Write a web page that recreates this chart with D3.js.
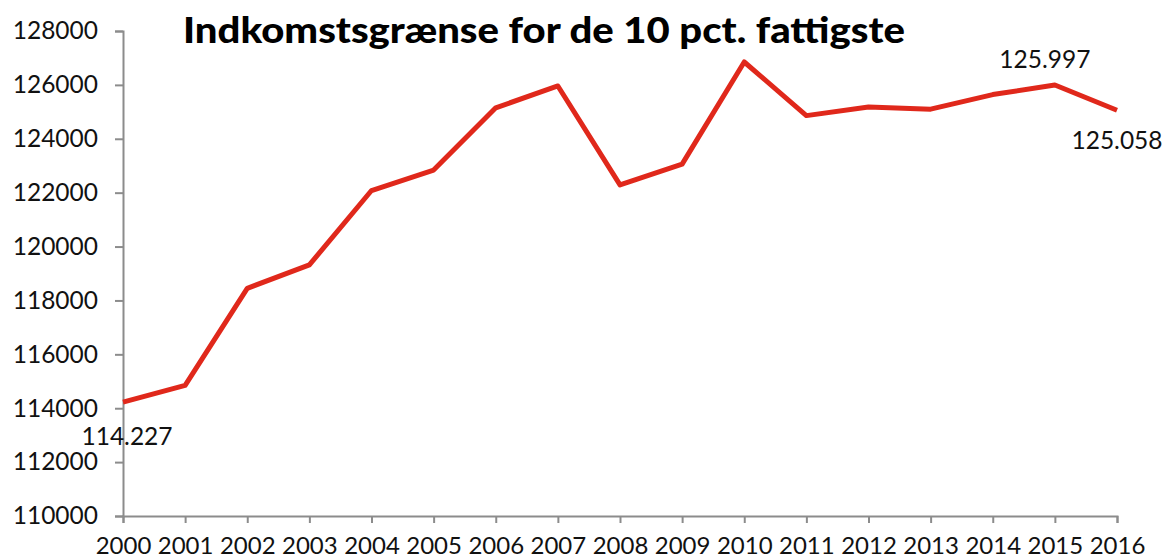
<!DOCTYPE html>
<html><head><meta charset="utf-8">
<script src="https://cdn.jsdelivr.net/npm/d3@7"></script>
<style>body{margin:0;background:#fff}svg{display:block}</style>
</head><body>
<svg id="c" width="1168" height="559"></svg>
<script>
const years = ["2000","2001","2002","2003","2004","2005","2006","2007","2008","2009","2010","2011","2012","2013","2014","2015","2016"];
const values = [114227,114850,118450,119320,122080,122840,125150,125960,122290,123060,126850,124860,125180,125100,125640,125997,125058];
const yTicks = [110000,112000,114000,116000,118000,120000,122000,124000,126000,128000];
const labelYears = ["2000","2015","2016"];
const labelTexts = ["114.227","125.997","125.058"];
const title = "Indkomstsgrænse for de 10 pct. fattigste";

const svg = d3.select("#c");
const font = "Lato, 'Open Sans', sans-serif";
const x = d3.scalePoint().domain(years).range([123, 1117]);
const y = d3.scaleLinear().domain([110000, 128000]).range([516, 31]);
const axisColor = "#8c8c8c";

const gy = svg.append("g").attr("transform","translate(123,0)")
  .call(d3.axisLeft(y).tickValues(yTicks).tickFormat(d3.format("d")).tickSize(8).tickPadding(17));
const gx = svg.append("g").attr("transform","translate(0,516)")
  .call(d3.axisBottom(x).tickSize(7).tickPadding(14));
[gy,gx].forEach(g=>{
  g.select(".domain").attr("stroke",axisColor).attr("stroke-width",2);
  g.selectAll(".tick line").attr("stroke",axisColor).attr("stroke-width",2);
  g.selectAll("text").attr("font-family",font).attr("font-size",24).attr("fill","#111");
});
gy.selectAll("text").attr("font-size",24.5);

svg.append("path").datum(values)
  .attr("fill","none").attr("stroke","#e0281b").attr("stroke-width",5).attr("stroke-linejoin","round")
  .attr("d", d3.line().x((d,i)=>x(years[i])).y(d=>y(d)));

const labOff = {"2000":[4,43],"2015":[-10,-17],"2016":[0,39]};
labelYears.forEach((yr,i)=>{
  const v = values[years.indexOf(yr)];
  svg.append("text").attr("x", x(yr)+labOff[yr][0]).attr("y", y(v)+labOff[yr][1])
    .attr("text-anchor","middle").attr("font-family",font).attr("font-size",24.5).attr("fill","#111")
    .text(labelTexts[i]);
});

svg.append("text").attr("x",183).attr("y",43)
  .attr("font-family",font).attr("font-weight","900").attr("font-size",36).attr("fill","#000")
  .attr("textLength",722).attr("lengthAdjust","spacingAndGlyphs")
  .text(title);
</script>
</body></html>
